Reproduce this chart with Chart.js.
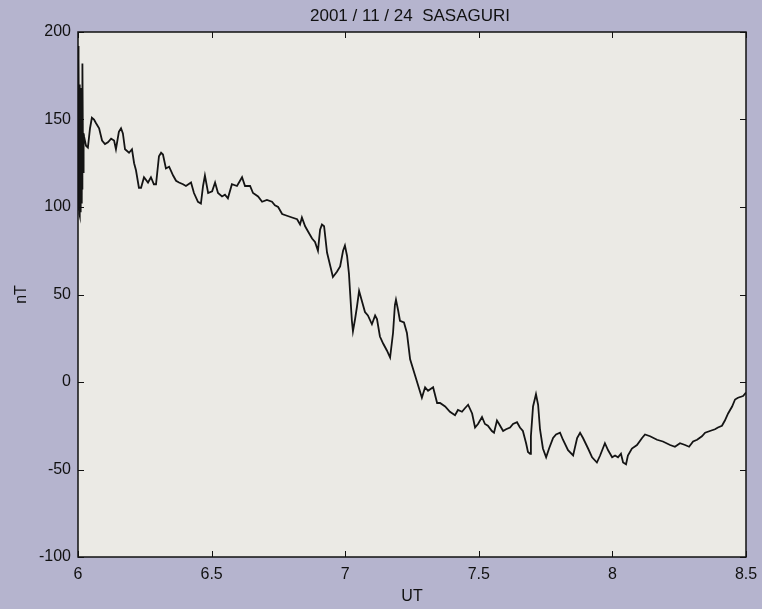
<!DOCTYPE html>
<html>
<head>
<meta charset="utf-8">
<script src="https://cdn.jsdelivr.net/npm/chart.js@4.4.0/dist/chart.umd.min.js"></script>
<style>
  html, body { margin: 0; padding: 0; background: #b5b4ce; }
  #wrap { width: 762px; height: 609px; }
</style>
</head>
<body>
<div id="wrap"><canvas id="myChart" width="762" height="609"></canvas></div>
<script>
"use strict";

// ========== DATA ==========
var chartTitle = "2001 / 11 / 24  SASAGURI";
var xTicks = [6, 6.5, 7, 7.5, 8, 8.5];
var yTicks = [-100, -50, 0, 50, 100, 150, 200];

// UT (hours)
var ut = [
  6.000, 6.001, 6.002, 6.003, 6.005, 6.006, 6.007, 6.008, 6.009, 6.010,
  6.011, 6.012, 6.014, 6.015, 6.016, 6.017, 6.019, 6.021, 6.023, 6.030,
  6.037, 6.045, 6.052, 6.060, 6.067, 6.079, 6.090, 6.101, 6.112, 6.124,
  6.135, 6.142, 6.153, 6.161, 6.168, 6.176, 6.191, 6.202, 6.210, 6.217,
  6.228, 6.236, 6.247, 6.262, 6.273, 6.284, 6.292, 6.303, 6.311, 6.318,
  6.329, 6.341, 6.356, 6.367, 6.378, 6.393, 6.404, 6.423, 6.434, 6.449,
  6.460, 6.468, 6.475, 6.487, 6.502, 6.513, 6.524, 6.539, 6.550, 6.561,
  6.576, 6.595, 6.614, 6.625, 6.644, 6.655, 6.674, 6.689, 6.707, 6.726,
  6.737, 6.749, 6.764, 6.782, 6.801, 6.820, 6.831, 6.838, 6.850, 6.861,
  6.876, 6.887, 6.898, 6.906, 6.913, 6.921, 6.932, 6.943, 6.954, 6.969,
  6.981, 6.992, 6.999, 7.007, 7.014, 7.018, 7.025, 7.029, 7.037, 7.044,
  7.052, 7.063, 7.074, 7.085, 7.100, 7.112, 7.119, 7.130, 7.142, 7.156,
  7.168, 7.179, 7.186, 7.190, 7.198, 7.205, 7.220, 7.231, 7.243, 7.261,
  7.273, 7.287, 7.299, 7.310, 7.329, 7.344, 7.355, 7.374, 7.392, 7.411,
  7.422, 7.437, 7.448, 7.460, 7.475, 7.486, 7.497, 7.512, 7.523, 7.534,
  7.549, 7.557, 7.568, 7.576, 7.591, 7.602, 7.617, 7.628, 7.643, 7.654,
  7.665, 7.677, 7.684, 7.692, 7.695, 7.703, 7.714, 7.722, 7.729, 7.740,
  7.752, 7.763, 7.778, 7.789, 7.804, 7.815, 7.834, 7.853, 7.868, 7.879,
  7.890, 7.909, 7.924, 7.942, 7.954, 7.972, 7.984, 7.999, 8.010, 8.021,
  8.032, 8.040, 8.051, 8.058, 8.073, 8.092, 8.111, 8.122, 8.141, 8.167,
  8.189, 8.216, 8.234, 8.253, 8.272, 8.287, 8.302, 8.317, 8.335, 8.347,
  8.365, 8.384, 8.395, 8.410, 8.421, 8.433, 8.448, 8.459, 8.470, 8.489,
  8.500
];

// H component (nT)
var nT = [
  120, 192, 98, 185, 96, 170, 95, 168, 100, 160,
  97, 150, 102, 145, 110, 182, 120, 142, 140, 135,
  134, 145, 151, 150, 148, 145, 138, 136, 137, 139,
  138, 133, 143, 145, 142, 133, 131, 133, 125, 121,
  111, 111, 117, 114, 117, 113, 113, 129, 131, 130,
  122, 123, 118, 115, 114, 113, 112, 114, 108, 103,
  102, 112, 118, 108, 109, 114, 108, 106, 107, 105,
  113, 112, 117, 112, 112, 108, 106, 103, 104, 103,
  101, 100, 96, 95, 94, 93, 90, 94, 89, 86,
  82, 80, 75, 87, 90, 89, 74, 67, 60, 63,
  66, 75, 78, 72, 62, 52, 35, 29, 36, 43,
  52, 46, 40, 38, 33, 38, 36, 26, 22, 18,
  14, 28, 44, 47, 41, 35, 34, 28, 13, 4,
  -2, -9, -3, -5, -3, -12, -12, -14, -17, -19,
  -16, -17, -15, -13, -18, -26, -24, -20, -24, -25,
  -28, -29, -22, -24, -28, -27, -26, -24, -23, -26,
  -28, -35, -40, -41, -31, -14, -7, -13, -27, -38,
  -43, -38, -32, -30, -29, -33, -39, -42, -32, -29,
  -32, -38, -43, -46, -42, -35, -39, -43, -42, -43,
  -41, -46, -47, -42, -38, -36, -32, -30, -31, -33,
  -34, -36, -37, -35, -36, -37, -34, -33, -31, -29,
  -28, -27, -26, -25, -22, -18, -14, -10, -9, -8,
  -6
];

var points = ut.map(function (t, i) { return { x: t, y: nT[i] }; });

var FONT = "'Liberation Sans', Arial, sans-serif";

// ========== PLUGIN: nền ô vẽ, khung, vạch chia hướng vào trong, tiêu đề ==========
var matlabFrame = {
  id: "matlabFrame",
  beforeDraw: function (chart) {
    var a = chart.chartArea, ctx = chart.ctx;
    ctx.save();
    ctx.fillStyle = "#ebeae5";
    ctx.fillRect(a.left, a.top, a.right - a.left, a.bottom - a.top);
    ctx.restore();
  },
  afterDraw: function (chart) {
    var a = chart.chartArea, ctx = chart.ctx;
    var xs = chart.scales.x, ys = chart.scales.y;
    var len = 6;
    ctx.save();
    ctx.strokeStyle = "#111";
    ctx.lineWidth = 1.5;
    ctx.strokeRect(a.left, a.top, a.right - a.left, a.bottom - a.top);
    ctx.lineWidth = 1;
    ctx.beginPath();
    xTicks.forEach(function (v) {
      var px = Math.round(xs.getPixelForValue(v)) + 0.5;
      ctx.moveTo(px, a.bottom); ctx.lineTo(px, a.bottom - len);
      ctx.moveTo(px, a.top); ctx.lineTo(px, a.top + len);
    });
    yTicks.forEach(function (v) {
      var py = Math.round(ys.getPixelForValue(v)) + 0.5;
      ctx.moveTo(a.left, py); ctx.lineTo(a.left + len, py);
      ctx.moveTo(a.right, py); ctx.lineTo(a.right - len, py);
    });
    ctx.stroke();

    ctx.fillStyle = "#111";
    ctx.font = "17px " + FONT;
    ctx.textAlign = "center";
    ctx.textBaseline = "middle";
    ctx.fillText(chartTitle, (a.left + a.right) / 2 - 2, 16);
    ctx.restore();
  }
};

// ========== BIỂU ĐỒ ==========
var chartCanvas = document.getElementById("myChart");
new Chart(chartCanvas.getContext("2d"), {
  type: "line",
  data: {
    datasets: [
      {
        data: points,
        borderColor: "#141414",
        borderWidth: 1.8,
        pointRadius: 0,
        fill: false,
        tension: 0
      }
    ]
  },
  options: {
    responsive: false,
    animation: false,
    layout: { padding: { left: 0, top: 32, right: 16, bottom: 0 } },
    plugins: {
      legend: { display: false },
      tooltip: { enabled: false },
      title: { display: false }
    },
    scales: {
      x: {
        type: "linear",
        min: 6,
        max: 8.5,
        afterBuildTicks: function (s) { s.ticks = xTicks.map(function (v) { return { value: v }; }); },
        afterFit: function (s) {
          s.height = 52;
          s.paddingLeft = 0;
          s.paddingRight = 0;
        },
        ticks: {
          color: "#111",
          padding: 8,
          maxRotation: 0,
          font: { family: FONT, size: 16 },
          callback: function (v) { return String(v); }
        },
        grid: { display: false, drawTicks: false },
        border: { display: false },
        title: {
          display: true,
          text: "UT",
          color: "#111",
          font: { family: FONT, size: 16 },
          padding: { top: 0, bottom: 3 }
        }
      },
      y: {
        type: "linear",
        min: -100,
        max: 200,
        afterBuildTicks: function (s) { s.ticks = yTicks.map(function (v) { return { value: v }; }); },
        afterFit: function (s) {
          s.width = 78;
          s.paddingTop = 0;
          s.paddingBottom = 0;
        },
        ticks: {
          color: "#111",
          padding: 7,
          font: { family: FONT, size: 16 },
          callback: function (v) { return String(v); }
        },
        grid: { display: false, drawTicks: false },
        border: { display: false },
        title: {
          display: true,
          text: "nT",
          color: "#111",
          font: { family: FONT, size: 16 },
          padding: { top: 12, bottom: 0 }
        }
      }
    }
  },
  plugins: [matlabFrame]
});
</script>
</body>
</html>
